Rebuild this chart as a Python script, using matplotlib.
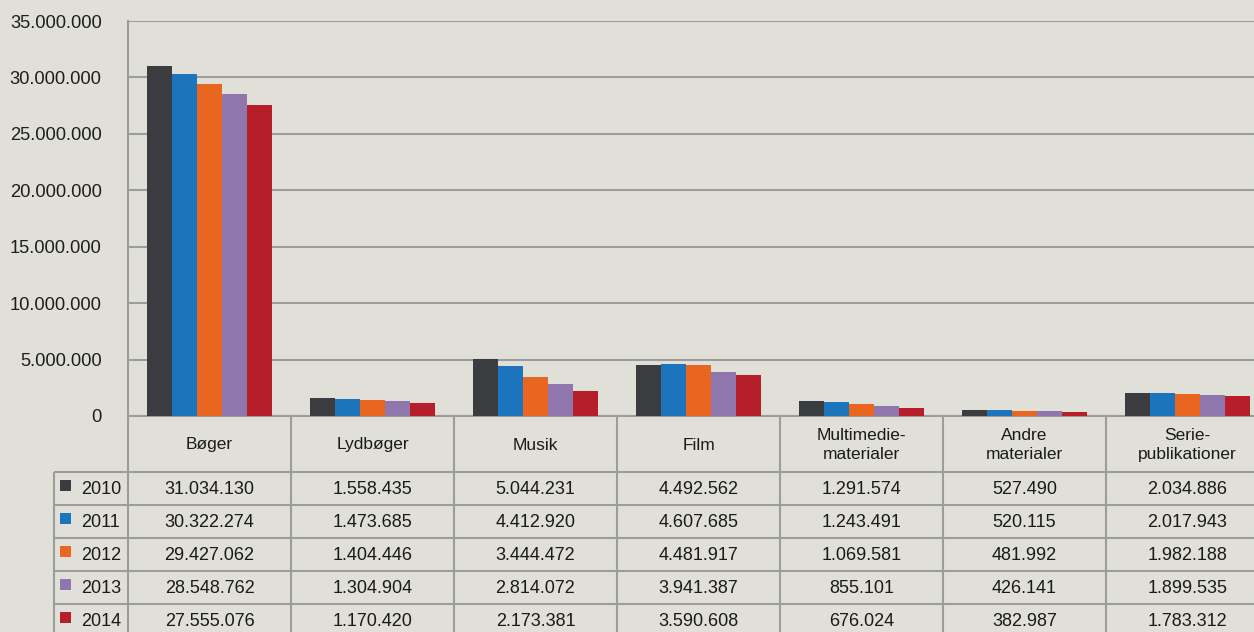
import matplotlib
matplotlib.use('Agg')
import matplotlib.pyplot as plt
from matplotlib.patches import Rectangle
from matplotlib import font_manager

categories = ['Bøger', 'Lydbøger', 'Musik', 'Film', 'Multimedie-\nmaterialer',
              'Andre\nmaterialer', 'Serie-\npublikationer']
years = ['2010', '2011', '2012', '2013', '2014']
v2010 = [31034130, 1558435, 5044231, 4492562, 1291574, 527490, 2034886]
v2011 = [30322274, 1473685, 4412920, 4607685, 1243491, 520115, 2017943]
v2012 = [29427062, 1404446, 3444472, 4481917, 1069581, 481992, 1982188]
v2013 = [28548762, 1304904, 2814072, 3941387, 855101, 426141, 1899535]
v2014 = [27555076, 1170420, 2173381, 3590608, 676024, 382987, 1783312]
series = [v2010, v2011, v2012, v2013, v2014]
colors = ['#3b3c3f', '#1c75bc', '#e8661f', '#8f77ae', '#b61f29']
yticks = [0, 5000000, 10000000, 15000000, 20000000, 25000000, 30000000, 35000000]

names = {f.name for f in font_manager.fontManager.ttflist}
narrow = 'Liberation Sans Narrow' if 'Liberation Sans Narrow' in names else 'Liberation Sans'
hdr_size = 13.5 if narrow == 'Liberation Sans Narrow' else 12.5

def fmt(v):
    return f"{v:,}".replace(',', '.')

W, H = 1254, 632
BG = '#e0dfd8'
LINE = '#9c9c9c'
fig = plt.figure(figsize=(W / 100, H / 100), dpi=100, facecolor=BG)

left, right, top, bottom = 128, 1269, 21, 416
ax = fig.add_axes([left / W, (H - bottom) / H, (right - left) / W, (bottom - top) / H])
ax.set_facecolor(BG)
n = len(categories)
ax.set_xlim(0, n)
ax.set_ylim(0, 35000000)
bw = 25 / 163
for j, (vals, c) in enumerate(zip(series, colors)):
    xs = [i + 0.5 + (j - 2) * bw for i in range(n)]
    ax.bar(xs, vals, width=bw, color=c, zorder=3, linewidth=0)
ax.set_yticks(yticks)
ax.set_yticklabels([fmt(t) for t in yticks], fontfamily='Liberation Sans', fontsize=13.2, color='#1e1e1e')
ax.tick_params(axis='y', length=0, pad=19)
ax.set_xticks([])
ax.grid(axis='y', color=LINE, linewidth=1.5, zorder=0)
for s in ['top', 'right']:
    ax.spines[s].set_visible(False)
for s in ['left', 'bottom']:
    ax.spines[s].set_color(LINE)
    ax.spines[s].set_linewidth(1.5)

# table overlay in pixel coordinates
ov = fig.add_axes([0, 0, 1, 1], facecolor='none')
ov.set_xlim(0, W)
ov.set_ylim(H, 0)
ov.axis('off')
colw = (right - left) / n
hdr_bot = 472
rowh = 33
tbl_bot = 660
lbl_left = 54
kw = dict(color=LINE, linewidth=1.5, solid_capstyle='butt')
for i in range(n + 1):
    x = left + i * colw
    ov.plot([x, x], [bottom, tbl_bot], **kw)
ov.plot([lbl_left, lbl_left], [hdr_bot, tbl_bot], **kw)
for k in range(len(years) + 1):
    y = hdr_bot + k * rowh
    ov.plot([lbl_left, right], [y, y], **kw)

for i, cat in enumerate(categories):
    cx = left + (i + 0.5) * colw
    ov.text(cx, (bottom + hdr_bot) / 2 + 1, cat, ha='center', va='center',
            fontfamily=narrow, fontsize=hdr_size, color='#1a1a1a', linespacing=1.35)
    for k, vals in enumerate(series):
        cy = hdr_bot + (k + 0.5) * rowh + 1
        ov.text(cx, cy, fmt(vals[i]), ha='center', va='center',
                fontfamily='Liberation Sans', fontsize=13, color='#1a1a1a')

for k, (yr, c) in enumerate(zip(years, colors)):
    cy = hdr_bot + (k + 0.5) * rowh
    ov.add_patch(Rectangle((60, cy - 9), 11, 11, facecolor=c, edgecolor='none'))
    ov.text(81, cy + 1, yr, ha='left', va='center', fontfamily='Liberation Sans',
            fontsize=13, color='#1a1a1a')

fig.savefig('out.png', dpi=100, facecolor=BG)
